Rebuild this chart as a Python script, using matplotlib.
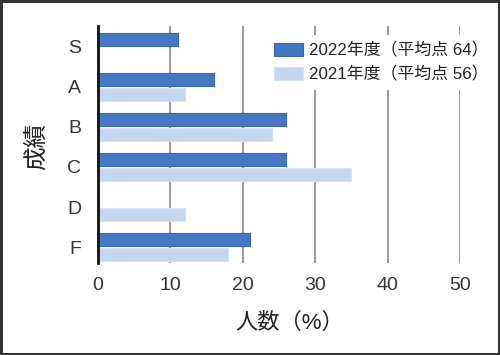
import matplotlib.pyplot as plt
import numpy as np

plt.rcParams['font.family'] = ['Liberation Sans', 'Noto Sans CJK JP']

grades = ['S', 'A', 'B', 'C', 'D', 'F']
y2022 = [11, 16, 26, 26, 0, 21]
y2021 = [0, 12, 24, 35, 12, 18]
label2022 = '2022年度（平均点 64）'
label2021 = '2021年度（平均点 56）'

fig = plt.figure(figsize=(5, 3.55), dpi=100, edgecolor='#333333', linewidth=2.5)
ax = fig.add_axes([0.196, 0.259, 0.724, 0.668])

pos = np.arange(len(grades))
h = 0.31
ax.barh(pos - 0.19, y2022, height=h, color='#4677C2', edgecolor='#3868B5',
        linewidth=0.8, label=label2022, zorder=3)
ax.barh(pos + 0.19, y2021, height=h, color='#C6D6EE', edgecolor='#D6E2F4',
        linewidth=0.8, label=label2021, zorder=3)

ax.set_xlim(0, 50)
ax.set_ylim(5.4, -0.525)
ax.set_xticks([0, 10, 20, 30, 40, 50])
ax.set_yticks(pos)
ax.set_yticklabels(grades)
ax.tick_params(length=0, labelsize=14, labelcolor='#333333')
ax.tick_params(axis='x', pad=10)
ax.tick_params(axis='y', pad=12)

ax.grid(axis='x', color='#8c8888', linewidth=1.2)
ax.set_axisbelow(True)
for s in ['top', 'right', 'bottom']:
    ax.spines[s].set_visible(False)
ax.spines['left'].set_linewidth(2)
ax.spines['left'].set_color('#111111')
ax.spines['left'].set_zorder(4)

ax.set_xlabel('人数（%）', fontsize=16, color='#222222', va='center')
ax.xaxis.set_label_coords(0.53, -0.253)
ax.set_ylabel('成績', fontsize=17, color='#222222', va='center')
ax.yaxis.set_label_coords(-0.171, 0.494)

leg = ax.legend(loc='upper left', bbox_to_anchor=(266 / 500, 1 - 35 / 355),
                bbox_transform=fig.transFigure, fontsize=12.2, frameon=True,
                fancybox=False, edgecolor='none', facecolor='white', framealpha=1,
                handlelength=1.75, handleheight=0.8, handletextpad=0.35,
                labelspacing=0.45, borderpad=0.45, borderaxespad=0)
for t in leg.get_texts():
    t.set_color('#222222')
leg.set_zorder(5)

fig.savefig('out.png', dpi=100, edgecolor=fig.get_edgecolor())
